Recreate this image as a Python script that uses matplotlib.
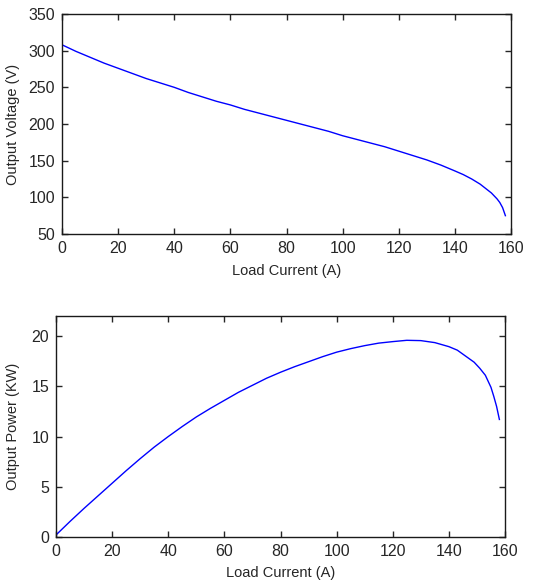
import matplotlib
matplotlib.use("Agg")
import matplotlib.pyplot as plt

# Values
current_v = [0, 5, 10, 15, 20, 25, 30, 35, 40, 45, 50, 55, 60, 65, 70, 75,
             80, 85, 90, 95, 100, 105, 110, 115, 120, 125, 130, 135, 140,
             143, 146, 149, 151, 153, 155, 156, 157, 158]
voltage = [308, 299, 291, 283, 276, 269, 262, 256, 250, 243, 237, 231, 226,
           220, 215, 210, 205, 200, 195, 190, 184, 179, 174, 169, 163, 157,
           151, 144, 136, 131, 125, 118, 112, 106, 98, 93, 86, 75]

current_p = [0, 5, 10, 15, 20, 25, 30, 35, 40, 45, 50, 55, 60, 65, 70, 75,
             80, 85, 90, 95, 100, 105, 110, 115, 120, 125, 130, 135, 140,
             143, 146, 149, 151, 153, 155, 156, 157, 158]
power = [0.2, 1.55, 2.85, 4.1, 5.35, 6.6, 7.8, 8.95, 10.0, 11.0, 11.95, 12.8,
         13.6, 14.4, 15.1, 15.8, 16.4, 16.95, 17.45, 17.95, 18.4, 18.75,
         19.05, 19.3, 19.45, 19.58, 19.55, 19.35, 18.95, 18.6, 18.0, 17.4,
         16.8, 16.1, 14.9, 14.0, 13.0, 11.7]

x_ticks = [0, 20, 40, 60, 80, 100, 120, 140, 160]
v_ticks = [50, 100, 150, 200, 250, 300, 350]
p_ticks = [0, 5, 10, 15, 20]

plt.rcParams['font.family'] = ['Liberation Sans', 'DejaVu Sans']
text_color = '#262626'

fig = plt.figure(figsize=(5.45, 5.85), dpi=100)
W, H = 545, 585

def style_axes(ax):
    ax.tick_params(direction='in', top=True, right=True, length=4, pad=5,
                   labelsize=11.5, colors=text_color, width=1)
    for s in ax.spines.values():
        s.set_linewidth(1)
        s.set_color('#1a1a1a')

# top: voltage
ax1 = fig.add_axes([62 / W, 1 - 234 / H, (511 - 62) / W, (234 - 14) / H])
ax1.plot(current_v, voltage, color='blue', linewidth=1)
ax1.set_xlim(0, 160)
ax1.set_ylim(50, 350)
ax1.set_xticks(x_ticks)
ax1.set_yticks(v_ticks)
ax1.set_xlabel('Load Current (A)', fontsize=10.5, color=text_color, labelpad=6)
ax1.set_ylabel('Output Voltage (V)', fontsize=10.5, color=text_color, labelpad=6)
style_axes(ax1)

# bottom: power
ax2 = fig.add_axes([56 / W, 1 - 537 / H, (505 - 56) / W, (537 - 316) / H])
ax2.plot(current_p, power, color='blue', linewidth=1)
ax2.set_xlim(0, 160)
ax2.set_ylim(0, 22)
ax2.set_xticks(x_ticks)
ax2.set_yticks(p_ticks)
ax2.set_xlabel('Load Current (A)', fontsize=10.5, color=text_color, labelpad=5)
ax2.set_ylabel('Output Power (KW)', fontsize=10.5, color=text_color, labelpad=8)
style_axes(ax2)

fig.savefig('out.png', dpi=100)
